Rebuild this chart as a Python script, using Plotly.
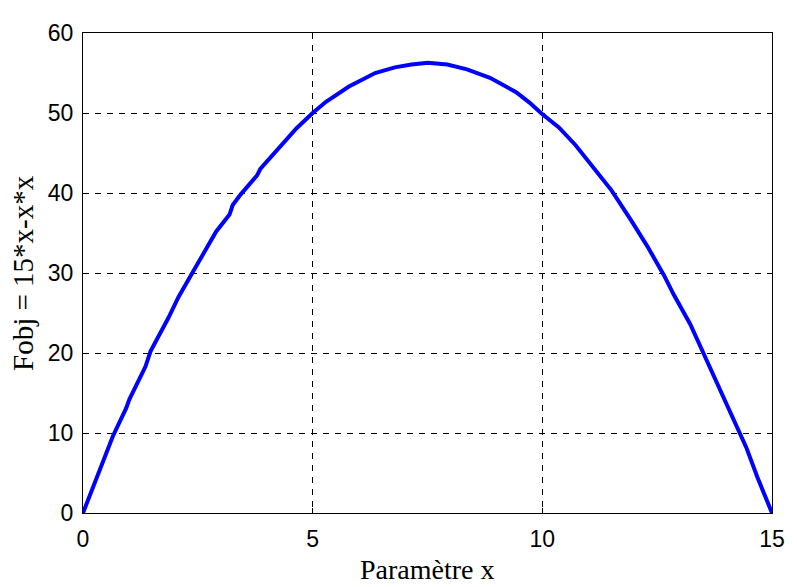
import plotly.graph_objects as go

x_vals = [0, 0.15, 0.26, 0.54, 0.65, 0.94, 1.01, 1.36, 1.47, 1.86, 2.08, 2.36, 2.65, 2.90,
          3.19, 3.26, 3.43, 3.79, 3.86, 4.22, 4.65, 5.0, 5.29, 5.79, 6.36, 6.79, 7.15, 7.51,
          7.93, 8.36, 8.86, 9.43, 9.72, 9.97, 10.36, 10.72, 11.15, 11.51, 11.93, 12.15, 12.29,
          12.65, 12.86, 13.22, 13.33, 13.69, 14.01, 14.44, 14.68, 15.0]
fobj_vals = [0, 2.2, 4.0, 7.9, 9.6, 13.1, 14.2, 18.3, 20.2, 24.4, 27.0, 29.8, 32.6, 35.2,
             37.3, 38.5, 39.8, 42.2, 43.0, 45.4, 48.1, 50.0, 51.4, 53.3, 55.0, 55.7, 56.05, 56.27,
             56.06, 55.45, 54.4, 52.6, 51.3, 50.0, 48.2, 46.0, 42.8, 40.3, 36.6, 34.6, 33.3,
             29.7, 27.3, 23.6, 22.2, 17.9, 13.6, 8.2, 4.5, 0]
x_ticks = [0, 5, 10, 15]
y_ticks = [0, 10, 20, 30, 40, 50, 60]
x_label = "Paramètre x"
y_label = "Fobj = 15*x-x*x"

fig = go.Figure()
fig.add_trace(go.Scatter(x=x_vals, y=fobj_vals, mode="lines",
                         line=dict(color="#0000FF", width=4), showlegend=False))

axis_common = dict(
    showline=True, linecolor="black", linewidth=1.2, mirror="ticks",
    showgrid=True, gridcolor="black", gridwidth=1, griddash="6px,6px",
    zeroline=False, ticks="inside", ticklen=5, tickcolor="black", tickwidth=1,
    tickfont=dict(family="Liberation Sans, Arial", size=23, color="black"),
)

# The page body adds an 8px margin, so the figure is offset by 8px right and down.
fig.update_layout(
    width=789, height=579,
    margin=dict(l=75, r=14, t=15, b=74),
    plot_bgcolor="white", paper_bgcolor="white",
    xaxis=dict(range=[0, 15], tickvals=x_ticks, ticklabelstandoff=5, **axis_common),
    yaxis=dict(range=[0, 60], tickvals=y_ticks, ticklabelstandoff=4, **axis_common),
    annotations=[
        dict(text=x_label, xref="paper", yref="paper", x=0.5, y=0, yshift=-56,
             xanchor="center", yanchor="middle", showarrow=False,
             font=dict(family="Liberation Serif, Times New Roman", size=28, color="black")),
        dict(text=y_label, xref="paper", yref="paper", x=0, y=0.5, xshift=-60,
             xanchor="center", yanchor="middle", textangle=-90, showarrow=False,
             font=dict(family="Liberation Serif, Times New Roman", size=29, color="black")),
    ],
)

fig.write_html("out.html")
